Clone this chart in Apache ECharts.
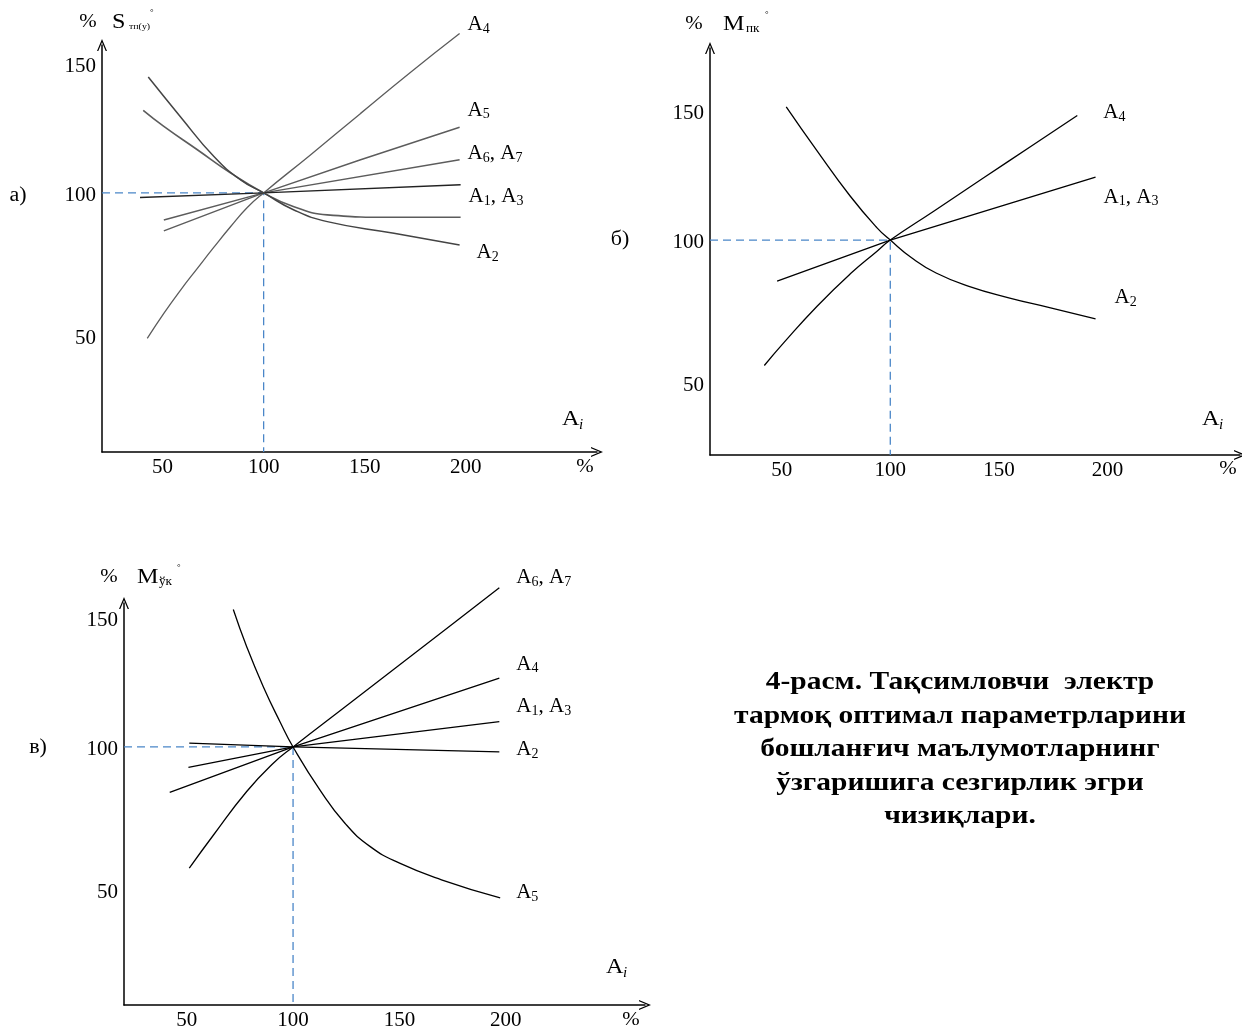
<!DOCTYPE html>
<html>
<head>
<meta charset="utf-8">
<script src="https://cdn.jsdelivr.net/npm/echarts@6/dist/echarts.min.js"></script>
<style>
html,body{margin:0;padding:0;background:#fff;}
#chart{width:1242px;height:1029px;}
</style>
</head>
<body>
<div id="chart"></div>
<script>
// ---------- DATA ----------
// axis tick labels
const yTicks = [50, 100, 150];
const xTicks = [50, 100, 150, 200];

// panel а) S_тп(у)
const a_A4  = [[42.4,46.4],[50.6,55.6],[58.9,64.2],[67.2,72.2],[75.4,80.0],[83.7,87.6],[91.9,94.6],[100,100],[123,113.9],[148,129.3],[172,144.0],[197,158.7]];
const a_A5  = [[50.6,86.0],[100,100],[148,112.2],[197,124.2]];
const a_A67 = [[50.6,90.0],[100,100],[197,112.2]];
const a_A13 = [[38.8,98.3],[100,100],[197.5,103.0]];
const a_D   = [[40.4,130.4],[50.6,124.5],[67.2,115.9],[83.7,107.3],[100,100],[115,94.9],[131.5,91.9],[164.5,91.0],[197.5,91.0]];
const a_A2  = [[42.9,142.7],[58.9,128.0],[75.4,113.4],[88.6,104.8],[100,100],[115,93.7],[131.5,89.4],[164.5,85.1],[197,80.8]];

// panel б) M_пк
const b_A4  = [[42.0,53.9],[50.9,62.2],[66.3,75.7],[81.6,87.6],[93.9,95.9],[100,100],[120,110.6],[143,122.9],[165,134.6],[186.1,145.8]];
const b_A13 = [[47.9,84.9],[100,100],[194.5,123.1]];
const b_A2  = [[52.1,149.0],[66.3,132.8],[81.6,116.1],[93.9,104.5],[100,100],[109.8,93.5],[121.1,87.9],[136.2,83.0],[155.0,78.7],[173.8,75.1],[194.5,71.0]];

// panel в) M_ўк
const c_A67 = [[51.2,55.4],[62.5,67.5],[78.2,83.6],[90.7,94.0],[100,100],[125,115.1],[150,130.2],[175,145.3],[197,158.6]];
const c_A4  = [[42.0,83.3],[100,100],[197,125.3]];
const c_A13 = [[50.8,92.5],[100,100],[197,109.3]];
const c_A2  = [[51.2,101.4],[100,100],[197,98.2]];
const c_A5  = [[71.9,150.6],[78.2,136.9],[86.0,122.2],[93.9,109.2],[100,100],[112.6,84.2],[124.4,71.9],[136.3,63.3],[150.1,57.2],[169.8,51.1],[197.4,44.4]];

// axis ranges (value units)
const aX = [20, 265],   aY = [4.5, 154.5];
const bX = [17, 261],   bY = [21, 170.6];
const cX = [20.5, 265.5], cY = [5, 153];

// ---------- CHART ----------
const FONT = '"Liberation Serif","Times New Roman",serif';
const ARROW = 'path://M0,12 L5,0 L10,12 L8.7,12 L5,3.2 L1.3,12 Z';
const chart = echarts.init(document.getElementById('chart'), null, {renderer: 'canvas'});

function xAxisDef(gi, r) {
  return {
    type: 'value', gridIndex: gi, min: r[0], max: r[1],
    axisLine: {show: true, lineStyle: {color: '#000', width: 1.5}, symbol: ['none', ARROW], symbolSize: [10, 12]},
    axisTick: {show: false}, splitLine: {show: false},
    axisLabel: {customValues: xTicks, color: '#000', fontFamily: FONT, fontSize: 21, margin: 5}
  };
}
function yAxisDef(gi, r) {
  return {
    type: 'value', gridIndex: gi, min: r[0], max: r[1],
    axisLine: {show: true, lineStyle: {color: '#000', width: 1.5}, symbol: ['none', ARROW], symbolSize: [10, 12]},
    axisTick: {show: false}, splitLine: {show: false},
    axisLabel: {
      customValues: yTicks, color: '#000', fontFamily: FONT, fontSize: 21, margin: 6,
      formatter: v => v === 100 ? '{m|' + v + '}' : '{o|' + v + '}',
      rich: {
        m: {fontFamily: FONT, fontSize: 21, color: '#000', padding: [5, 0, 0, 0]},
        o: {fontFamily: FONT, fontSize: 21, color: '#000', padding: [19, 0, 0, 0]}
      }
    }
  };
}

const labelRich = {
  s: {fontFamily: FONT, fontSize: 14, color: '#000', padding: [9, 0, 0, 0]}
};
function curve(gi, data, color, width, smooth, label, offset) {
  const s = {
    type: 'line', xAxisIndex: gi, yAxisIndex: gi, data: data,
    symbol: 'none', clip: false, smooth: smooth,
    lineStyle: {color: color, width: width},
    silent: true, z: 3
  };
  if (label) {
    s.endLabel = {
      show: true, formatter: label, offset: offset, distance: 5,
      color: '#000', fontFamily: FONT, fontSize: 21, rich: labelRich
    };
  }
  return s;
}
function guide(gi, xr, yr) {
  return {
    type: 'line', xAxisIndex: gi, yAxisIndex: gi,
    data: [[xr[0], 100], [100, 100], [100, yr[0]]],
    symbol: 'none', clip: false, silent: true, z: 2,
    lineStyle: {color: '#4a86c8', width: 1.3, type: [8, 5]}
  };
}

const GA = '#5c5c5c';
const SM = 0.5;
const series = [
  guide(0, aX, aY), guide(1, bX, bY), guide(2, cX, cY),
  // а)
  curve(0, a_A4, GA, 1.3, SM, 'A{s|4}', [3, -9]),
  curve(0, a_A5, GA, 1.4, false, 'A{s|5}', [3, -17]),
  curve(0, a_A67, GA, 1.5, false, 'A{s|6}, A{s|7}', [3, -6]),
  curve(0, a_A13, '#222', 1.3, false, 'A{s|1}, A{s|3}', [3, 12]),
  curve(0, a_D, GA, 1.6, SM, null, null),
  curve(0, a_A2, '#444', 1.5, SM, 'A{s|2}', [12, 8]),
  // б)
  curve(1, b_A4, '#000', 1.3, SM, 'A{s|4}', [21, -3]),
  curve(1, b_A13, '#000', 1.3, false, 'A{s|1}, A{s|3}', [3, 20]),
  curve(1, b_A2, '#000', 1.3, SM, 'A{s|2}', [14, -21]),
  // в)
  curve(2, c_A67, '#000', 1.3, SM, 'A{s|6}, A{s|7}', [12, -10]),
  curve(2, c_A4, '#000', 1.3, false, 'A{s|4}', [12, -14]),
  curve(2, c_A13, '#000', 1.3, false, 'A{s|1}, A{s|3}', [12, -15]),
  curve(2, c_A2, '#000', 1.3, false, 'A{s|2}', [12, -2]),
  curve(2, c_A5, '#000', 1.3, SM, 'A{s|5}', [11, -5])
];

function txt(x, y, text, size, extra, sx) {
  return {
    type: 'text', x: x, y: y, silent: true, scaleX: sx || 1,
    style: Object.assign({text: text, font: size + 'px ' + FONT, fill: '#000', align: 'center', verticalAlign: 'middle'}, extra || {})
  };
}
function yTitle(xp, yp, letter, sub) {
  return [
    txt(xp.pct, yp, '%', 19, null, 1.1),
    txt(xp.m, yp, letter, 21, {align: 'left'}, 1.15),
    txt(xp.sub, yp + 5, sub, xp.subSize, {align: 'left'}, 1.1),
    txt(xp.deg, yp - 9, '°', 9, {align: 'left'})
  ];
}
function aiLabel(x, y) {
  return [
    txt(x, y, 'A', 22, {align: 'left'}, 1.1),
    {type: 'text', x: x + 17, y: y + 6, silent: true,
     style: {text: 'i', font: 'italic 15px ' + FONT, fill: '#000', align: 'left', verticalAlign: 'middle'}}
  ];
}

const graphics = [].concat(
  [txt(18, 196, 'а)', 20, null, 1.1), txt(620, 240, 'б)', 20, null, 1.1), txt(38, 748, 'в)', 20, null, 1.1)],
  yTitle({pct: 88, m: 112, sub: 129, subSize: 9, deg: 150}, 22, 'S', 'тп(у)'),
  yTitle({pct: 694, m: 723, sub: 746, subSize: 12, deg: 765}, 24, 'M', 'пк'),
  yTitle({pct: 109, m: 137, sub: 159, subSize: 12, deg: 177}, 577, 'M', 'ўк'),
  aiLabel(562, 419), aiLabel(1202, 419), aiLabel(606, 967),
  [txt(585, 467, '%', 19, null, 1.1), txt(1228, 469, '%', 19, null, 1.1), txt(631, 1020, '%', 19, null, 1.1)],
  [{
    type: 'text', x: 960, y: 666, silent: true, scaleX: 1.18,
    style: {
      text: '4-расм. Тақсимловчи  электр\nтармоқ оптимал параметрларини\nбошланғич маълумотларнинг\nўзгаришига сезгирлик эгри\nчизиқлари.',
      font: 'bold 25px ' + FONT, fill: '#000', align: 'center', verticalAlign: 'top', lineHeight: 33.5
    }
  }]
);

chart.setOption({
  animation: false,
  backgroundColor: '#fff',
  grid: [
    {left: 102, top: 45, width: 495, height: 407, outerBoundsMode: 'none', containLabel: false},
    {left: 710, top: 48, width: 530, height: 407, outerBoundsMode: 'none', containLabel: false},
    {left: 124, top: 603, width: 521, height: 402, outerBoundsMode: 'none', containLabel: false}
  ],
  xAxis: [xAxisDef(0, aX), xAxisDef(1, bX), xAxisDef(2, cX)],
  yAxis: [yAxisDef(0, aY), yAxisDef(1, bY), yAxisDef(2, cY)],
  series: series,
  graphic: graphics
});
</script>
</body>
</html>
